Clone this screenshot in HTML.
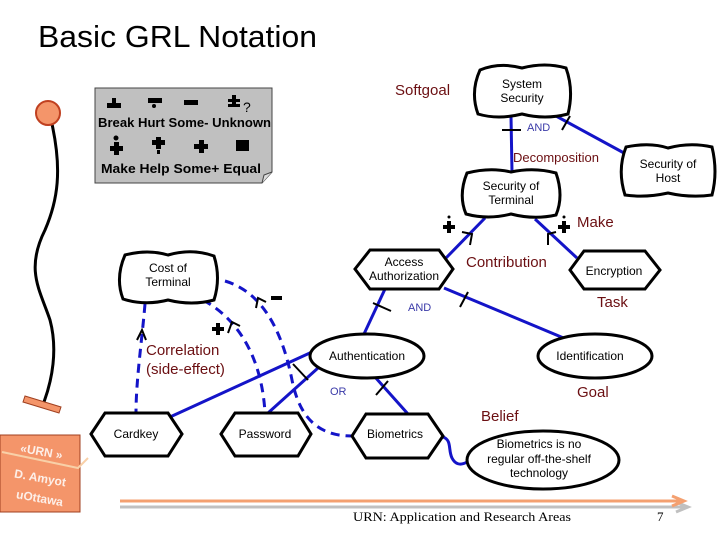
<!DOCTYPE html>
<html><head><meta charset="utf-8"><style>
html,body{margin:0;padding:0;background:#fff;}
svg{display:block;font-family:"Liberation Sans",Arial,sans-serif;}
</style></head><body>
<svg width="720" height="540" viewBox="0 0 720 540" xmlns="http://www.w3.org/2000/svg">
<rect width="720" height="540" fill="#fff"/>
<text x="38" y="47" font-size="31" textLength="279" lengthAdjust="spacingAndGlyphs">Basic GRL Notation</text>

<!-- actor -->
<path d="M52,124 C62,170 58,200 45,230 C25,270 40,290 50,320 C58,350 52,380 44,402" fill="none" stroke="#000" stroke-width="3"/>
<circle cx="48" cy="113" r="12" fill="#f4956a" stroke="#c04020" stroke-width="2"/>
<polygon points="25,396 61,407 59,413 23,402" fill="#f4956a" stroke="#a04020" stroke-width="1"/>

<!-- legend -->
<path d="M95,88 L272,88 L272,172 L262,183 L95,183 Z" fill="#c0c0c0" stroke="#444" stroke-width="1"/>
<path d="M262,183 L264,175 L272,172" fill="#ddd" stroke="#444" stroke-width="1"/>
<g fill="#000">
<rect x="107" y="103" width="14" height="5"/><rect x="112" y="98" width="4" height="5"/>
<rect x="148" y="98" width="14" height="5"/><circle cx="154" cy="106" r="2"/>
<rect x="184" y="100" width="14" height="5"/>
<rect x="228" y="99" width="12" height="3"/><rect x="232" y="95" width="4" height="11"/><rect x="228" y="104" width="12" height="3"/>
<circle cx="116" cy="138" r="2.5"/><rect x="110" y="146" width="13" height="5"/><rect x="114" y="142" width="5" height="13"/>
<rect x="152" y="140" width="13" height="5"/><rect x="156" y="137" width="5" height="12"/><rect x="157" y="150" width="3" height="4"/>
<rect x="194" y="144" width="14" height="5"/><rect x="199" y="140" width="5" height="13"/>
<rect x="236" y="140" width="13" height="11"/>
</g>
<text x="243" y="112" font-size="14">?</text>
<text x="98" y="127" font-size="12.5" font-weight="bold" textLength="173" lengthAdjust="spacingAndGlyphs">Break Hurt Some- Unknown</text>
<text x="101" y="173" font-size="12.5" font-weight="bold" textLength="160" lengthAdjust="spacingAndGlyphs">Make  Help  Some+ Equal</text>

<!-- solid links -->
<g stroke="#1414c8" stroke-width="3" fill="none">
<line x1="511" y1="116" x2="512" y2="172"/>
<line x1="556" y1="116" x2="624" y2="153"/>
<line x1="485" y1="218" x2="446" y2="258"/>
<line x1="535" y1="219" x2="577" y2="258"/>
<line x1="385" y1="289" x2="364" y2="334"/>
<line x1="444" y1="288" x2="566" y2="339"/>
<line x1="170" y1="417" x2="312" y2="352"/>
<line x1="268" y1="413" x2="318" y2="368"/>
<line x1="375" y1="377" x2="408" y2="414"/>
<path d="M443,437 C452,440 448,450 452,458 C455,464 460,466 467,462"/>
</g>
<g stroke="#000" stroke-width="2" fill="none">
<path d="M462,232 L472,234 L470,245"/>
<path d="M556,232 L548,234 L548,245"/>
<line x1="502" y1="130" x2="521" y2="130"/>
<line x1="562" y1="130" x2="570" y2="116"/>
<line x1="460" y1="307" x2="468" y2="292"/>
<line x1="373" y1="303" x2="391" y2="311"/>
<line x1="293" y1="364" x2="308" y2="380"/>
<line x1="376" y1="395" x2="388" y2="381"/>
</g>
<g fill="#000">
<circle cx="449" cy="217" r="1.5"/><rect x="443" y="225" width="12" height="4"/><rect x="447" y="221" width="4" height="12"/>
<circle cx="564" cy="217" r="1.5"/><rect x="558" y="225" width="12" height="4"/><rect x="562" y="221" width="4" height="12"/>
<rect x="212" y="327" width="12" height="4"/><rect x="216" y="323" width="4" height="12"/>
<rect x="271" y="296" width="11" height="4"/>
</g>

<!-- dashed correlations -->
<g stroke="#1414c8" stroke-width="3" fill="none" stroke-dasharray="9,6">
<path d="M145,304 C142,340 136,380 136,413"/>
<path d="M203,300 C240,320 262,360 265,413"/>
<path d="M225,281 C262,292 282,330 292,380 C300,420 320,436 352,436"/>
</g>
<g stroke="#000" stroke-width="2" fill="none">
<path d="M137,340 L142,330 L146,340"/>
<path d="M228,333 L232,322 L240,326"/>
<path d="M256,308 L258,298 L266,302"/>
</g>

<!-- clouds -->
<g fill="#fff" stroke="#000" stroke-width="3">
<path d="M480,70 Q500,62 522,68 Q545,62 566,68 Q574,90 568,114 Q545,120 522,114 Q498,120 478,114 Q470,92 480,70 Z"/>
<path d="M626,147 Q650,142 668,148 Q690,142 712,147 Q718,172 712,195 Q690,198 668,193 Q645,198 625,195 Q617,170 626,147 Z"/>
<path d="M467,173 Q490,167 511,172 Q534,167 556,173 Q564,196 556,215 Q534,220 511,214 Q488,220 466,214 Q458,195 467,173 Z"/>
<path d="M125,255 Q148,249 168,255 Q192,248 214,256 Q221,278 214,300 Q192,306 168,300 Q145,306 123,299 Q115,278 125,255 Z"/>
</g>
<g fill="#fff" stroke="#000" stroke-width="3">
<polygon points="355,269 370,250 439,250 453,269 439,289 370,289"/>
<polygon points="570,270 584,251 645,251 660,270 645,289 584,289"/>
<polygon points="91,434 105,413 168,413 182,434 168,456 105,456"/>
<polygon points="221,434 235,413 298,413 311,434 298,456 235,456"/>
<polygon points="352,436 366,414 428,414 443,436 428,458 366,458"/>
</g>
<g fill="#fff" stroke="#000" stroke-width="3">
<ellipse cx="367" cy="356" rx="57" ry="22"/>
<ellipse cx="595" cy="356" rx="57" ry="22"/>
<ellipse cx="543" cy="460" rx="76" ry="29"/>
</g>

<g font-size="12" text-anchor="middle" fill="#000">
<text x="522" y="88">System</text><text x="522" y="102">Security</text>
<text x="668" y="168">Security of</text><text x="668" y="182">Host</text>
<text x="511" y="190">Security of</text><text x="511" y="204">Terminal</text>
<text x="404" y="266">Access</text><text x="404" y="280">Authorization</text>
<text x="614" y="275">Encryption</text>
<text x="168" y="272">Cost of</text><text x="168" y="286">Terminal</text>
<text x="367" y="360">Authentication</text>
<text x="590" y="360">Identification</text>
<text x="136" y="438">Cardkey</text>
<text x="265" y="438">Password</text>
<text x="395" y="438">Biometrics</text>
<text x="539" y="448">Biometrics is no</text>
<text x="539" y="463">regular off-the-shelf</text>
<text x="539" y="477">technology</text>
</g>

<g fill="#6b0f12" font-size="15">
<text x="395" y="95">Softgoal</text>
<text x="513" y="162" font-size="13">Decomposition</text>
<text x="577" y="227">Make</text>
<text x="466" y="267">Contribution</text>
<text x="597" y="307">Task</text>
<text x="146" y="355">Correlation</text>
<text x="146" y="374">(side-effect)</text>
<text x="577" y="397">Goal</text>
<text x="481" y="421">Belief</text>
</g>
<g fill="#3a3aa8" font-size="11">
<text x="527" y="131">AND</text>
<text x="408" y="311">AND</text>
<text x="330" y="395">OR</text>
</g>

<rect x="0" y="435" width="80" height="77" fill="#f4956a" stroke="#a04020" stroke-width="1"/>
<path d="M2,452 L78,468 L88,458" fill="none" stroke="#f8d0a8" stroke-width="2"/>
<g fill="#fff" font-size="12" font-weight="bold" opacity="0.85">
<text x="20" y="455" transform="rotate(10 38 452)">«URN »</text>
<text x="14" y="482" transform="rotate(10 40 478)">D. Amyot</text>
<text x="16" y="502" transform="rotate(10 38 498)">uOttawa</text>
</g>

<line x1="120" y1="507" x2="684" y2="507" stroke="#c0c0c0" stroke-width="3"/>
<path d="M676,502 L688,507 L676,512" fill="none" stroke="#c0c0c0" stroke-width="3"/>
<line x1="120" y1="501" x2="680" y2="501" stroke="#f4a070" stroke-width="3"/>
<path d="M672,496 L684,501 L672,506" fill="none" stroke="#f4a070" stroke-width="3"/>
<text x="353" y="521" font-family="Liberation Serif,serif" font-size="13" textLength="218" lengthAdjust="spacingAndGlyphs">URN: Application and Research Areas</text>
<text x="657" y="521" font-family="Liberation Serif,serif" font-size="13">7</text>
</svg>
</body></html>
